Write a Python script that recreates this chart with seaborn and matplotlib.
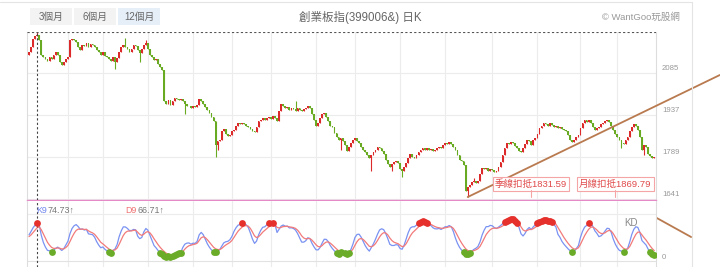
import numpy as np
import pandas as pd
import matplotlib
matplotlib.use("Agg")
import matplotlib.pyplot as plt
import matplotlib.transforms as mtrans
from matplotlib.patches import Rectangle
from matplotlib.lines import Line2D
import seaborn as sns

# ---------------- data ----------------
close = [
    2160, 2175, 2205, 2215, 2220, 2200, 2150, 2140, 2135, 2128,
    2140, 2135, 2150, 2158, 2150, 2125, 2112, 2125, 2135, 2140,
    2200, 2205, 2200, 2195, 2175, 2165, 2185, 2180, 2190, 2178,
    2188, 2185, 2175, 2165, 2158, 2150, 2160, 2145, 2140, 2135,
    2128, 2140, 2125, 2138, 2160, 2175, 2185, 2178, 2168, 2160,
    2170, 2182, 2180, 2165, 2155, 2170, 2185, 2190, 2170, 2150,
    2140, 2130, 2135, 2118, 2105, 2095, 1985, 1975, 1990, 1972,
    1985, 1998, 1995, 1990, 1992, 1985, 1975, 1970, 1968, 1962,
    1970, 1965, 1972, 1992, 1985, 1975, 1965, 1955, 1945, 1930,
    1915, 1830, 1845, 1850, 1880, 1888, 1870, 1862, 1868, 1880,
    1885, 1900, 1908, 1905, 1910, 1906, 1900, 1895, 1888, 1882,
    1878, 1895, 1915, 1920, 1925, 1918, 1928, 1930, 1922, 1932,
    1925, 1915, 1950, 1975, 1970, 1960, 1965, 1955, 1962, 1958,
    1952, 1960, 1955, 1950, 1958, 1962, 1968, 1960, 1940, 1920,
    1900, 1910, 1925, 1940, 1945, 1930, 1915, 1900, 1895, 1875,
    1860, 1850, 1855, 1845, 1830, 1810, 1825, 1840, 1850, 1855,
    1845, 1838, 1825, 1815, 1808, 1795, 1785, 1795, 1805, 1815,
    1825, 1820, 1810, 1800, 1780, 1765, 1755, 1765, 1770, 1775,
    1768, 1745, 1738, 1755, 1768, 1785, 1800, 1790, 1785, 1795,
    1805, 1815, 1822, 1815, 1820, 1812, 1818, 1810, 1815, 1820,
    1825, 1822, 1830, 1838, 1835, 1842, 1835, 1825, 1815, 1795,
    1780, 1775, 1760, 1670, 1685, 1690, 1700, 1705, 1698, 1703,
    1730, 1750, 1745, 1752, 1740, 1748, 1742, 1735, 1738, 1755,
    1770, 1795, 1820, 1840, 1835, 1842, 1838, 1828, 1820, 1810,
    1805, 1820, 1835, 1848, 1845, 1831.59, 1850, 1855, 1870, 1890,
    1900, 1910, 1905, 1900, 1908, 1902, 1895, 1898, 1890, 1895,
    1888, 1885, 1880, 1865, 1850, 1842, 1850, 1860, 1865, 1890,
    1910, 1918, 1912, 1918, 1908, 1895, 1885, 1890, 1895, 1905,
    1910, 1915, 1920, 1912, 1900, 1885, 1869.79, 1860, 1850, 1840,
    1835, 1850, 1858, 1880, 1895, 1905, 1900, 1885, 1860, 1815,
    1830, 1825, 1800, 1792, 1785, 1789,
]
first_open = 2150
wick_high = {4: 2228, 47: 2208, 57: 2203, 130: 1985, 217: 1715}
wick_low = {42: 2100, 54: 2124, 76: 1942, 91: 1790, 92: 1814, 152: 1814,
            167: 1740, 177: 1738, 182: 1718, 214: 1648, 289: 1820, 300: 1795}
typical_shadow = 10  # small everyday shadow above/below the body (price points)
month_starts = [19, 36, 58, 80, 99, 118, 140, 159, 181, 203, 226, 248, 269, 287]
price_ticks = [1641, 1789, 1937, 2085]
title = "創業板指(399006&) 日K"
buttons = ["3個月", "6個月", "12個月"]
k_label = ("K9", "74.73↑")
d_label = ("D9", "66.71↑")
deduct = [("季線扣抵", 245), ("月線扣抵", 286)]
trend_up = ([214, 337], [1648, 2078])
trend_down = ([293, 323], [1627, 1507])
cross_idx = 4

# ---------------- derived ----------------
n = len(close)
idx = np.arange(n)
c = np.array(close, dtype=float)
o = np.concatenate([[first_open], c[:-1]])
hi = np.maximum(o, c)
lo = np.minimum(o, c)
hi_s = hi + typical_shadow
lo_s = lo - typical_shadow
for k, v in wick_high.items():
    hi[k] = max(hi[k], v)
    hi_s[k] = max(hi_s[k], v)
for k, v in wick_low.items():
    lo[k] = min(lo[k], v)
    lo_s[k] = min(lo_s[k], v)

K, D = [], []
kv, dv = 50.0, 50.0
for i in range(n):
    l9 = lo_s[max(0, i - 8):i + 1].min()
    h9 = hi_s[max(0, i - 8):i + 1].max()
    rsv = (c[i] - l9) / (h9 - l9) * 100 if h9 > l9 else 50
    kv = kv * 2 / 3 + rsv / 3
    dv = dv * 2 / 3 + kv / 3
    K.append(kv)
    D.append(dv)
kd = pd.DataFrame({"i": idx, "K": K, "D": D})

# ---------------- style ----------------
sns.set_theme(style="white")
plt.rcParams["font.family"] = ["Liberation Sans", "Noto Sans CJK TC", "DejaVu Sans"]

RED = "#dc2a2a"
GREEN = "#68ab22"
GRID = "#ececec"
W, H = 720, 267


def fx(px):
    return px / W


def fy(py):
    return 1 - py / H


fig = plt.figure(figsize=(7.2, 2.67), dpi=100)
fig.patch.set_facecolor("white")

ax = fig.add_axes([fx(27), fy(200), fx(656) - fx(27), fy(32) - fy(200)])
ax2 = fig.add_axes([fx(27), fy(267), fx(656) - fx(27), fy(201) - fy(267)])

xl = (-0.98, -0.98 + 629 / 2.05)
for a in (ax, ax2):
    a.set_xlim(*xl)
    a.set_xticks([])
    a.set_yticks([])
    a.set_facecolor("white")
    for s in a.spines.values():
        s.set_color("#dddddd")
        s.set_linewidth(0.8)
    a.spines["top"].set_visible(False)
    for m in month_starts:
        a.axvline(m, color=GRID, lw=0.8, zorder=0)

ax.set_ylim(1637.5, 2229.5)
ax.spines["bottom"].set_color("#e48ac6")
ax.spines["bottom"].set_linewidth(1.0)
for v in price_ticks:
    ax.axhline(v, color=GRID, lw=0.8, zorder=0)
    ax.text(1.0095, v + 3, str(v), transform=ax.get_yaxis_transform(),
            fontsize=5.6, color="#999999", ha="left", va="bottom", clip_on=False)

# candles
up = c >= o
cols = np.where(up, RED, GREEN)
ax.vlines(idx, lo, hi, colors=cols, lw=0.8, zorder=2)
ax.bar(idx, np.maximum(np.abs(c - o), 2.5), bottom=np.minimum(o, c),
       width=0.86, color=cols, linewidth=0, zorder=3)

# crosshair
ax.axhline(hi[cross_idx], color="#555555", lw=0.8, ls=(0, (2, 2)), zorder=4)
for a in (ax, ax2):
    a.axvline(cross_idx, color="#444444", lw=0.8, ls=(0, (2, 2)), zorder=4)

# trend lines
ax.plot(trend_up[0], trend_up[1], color="#b97a4f", lw=1.3, clip_on=False, zorder=5)
ax.plot(trend_down[0], trend_down[1], color="#b97a4f", lw=1.3, clip_on=False, zorder=5)

# deduction labels
bt = mtrans.blended_transform_factory(ax.transData, ax.transAxes)
for name, i in deduct:
    ax.text(i, 0.095, f"{name}{close[i]:.2f}", transform=bt, fontsize=6.8,
            color="#e04a4a", ha="center", va="center", zorder=6,
            bbox=dict(boxstyle="square,pad=0.22", fc="white", ec="#f5a5a5", lw=0.8))
    ax.plot([i, i], [0.058, 0.02], transform=bt, color="#f5a5a5", lw=0.8, zorder=6)

# KD pane
ax2.set_ylim(-12.8, 127.7)
ax2.spines["bottom"].set_visible(False)
ax2.axhline(100, color=GRID, lw=0.8, zorder=0)
ax2.axhline(0, color="#e2e2e2", lw=0.8, zorder=0)
sns.lineplot(data=kd, x="i", y="K", ax=ax2, color="#7a92f2", lw=0.9, zorder=3)
sns.lineplot(data=kd, x="i", y="D", ax=ax2, color="#f27a7a", lw=0.9, zorder=3)
hot = kd[kd["K"] > 80]
cold = kd[kd["K"] < 20]
sns.scatterplot(data=hot, x="i", y="K", ax=ax2, color="#e5302c", s=24,
                linewidth=0, zorder=4)
sns.scatterplot(data=cold, x="i", y="K", ax=ax2, color="#6aab28", s=24,
                linewidth=0, zorder=4)
ax2.set_xlabel("")
ax2.set_ylabel("")
ax2.set_xlim(*xl)
ax2.text(1.0095, 0, "0", transform=ax2.get_yaxis_transform(), fontsize=5.6,
         color="#999999", ha="left", va="bottom", clip_on=False)
ax2.text(0.96, 0.667, "KD", transform=ax2.transAxes, fontsize=7,
         color="#888888", ha="center", va="center")

fig.text(fx(36), fy(213), k_label[0], fontsize=6.4, color="#6f86ee", ha="left", va="baseline")
fig.text(fx(48), fy(213), k_label[1], fontsize=6.4, color="#777777", ha="left", va="baseline")
fig.text(fx(125), fy(213), d_label[0], fontsize=6.4, color="#f07070", ha="left", va="baseline")
fig.text(fx(137), fy(213), d_label[1], fontsize=6.4, color="#777777", ha="left", va="baseline")

# header
bx = [30, 74, 118]
for j, (lab, x0) in enumerate(zip(buttons, bx)):
    sel = j == 2
    fig.add_artist(Rectangle((fx(x0), fy(25)), 42 / W, 17 / H, transform=fig.transFigure,
                             fc="#e6eef8" if sel else "#f3f3f3", ec="none"))
    fig.text(fx(x0 + 21), fy(16.5), lab, fontsize=7, color="#666666",
             ha="center", va="center")
fig.text(fx(360), fy(17), title, fontsize=8.3, color="#666666", ha="center", va="center")
fig.text(fx(680), fy(17), "© WantGoo玩股網", fontsize=6.8, color="#999999",
         ha="right", va="center")

# outer frame
fig.add_artist(Line2D([0, fx(692)], [fy(2), fy(2)], transform=fig.transFigure,
                      color="#e4e4e4", lw=0.8))
fig.add_artist(Line2D([fx(692), fx(692)], [fy(2), 0], transform=fig.transFigure,
                      color="#e4e4e4", lw=0.8))

fig.savefig("out.png", dpi=100, facecolor="white")
